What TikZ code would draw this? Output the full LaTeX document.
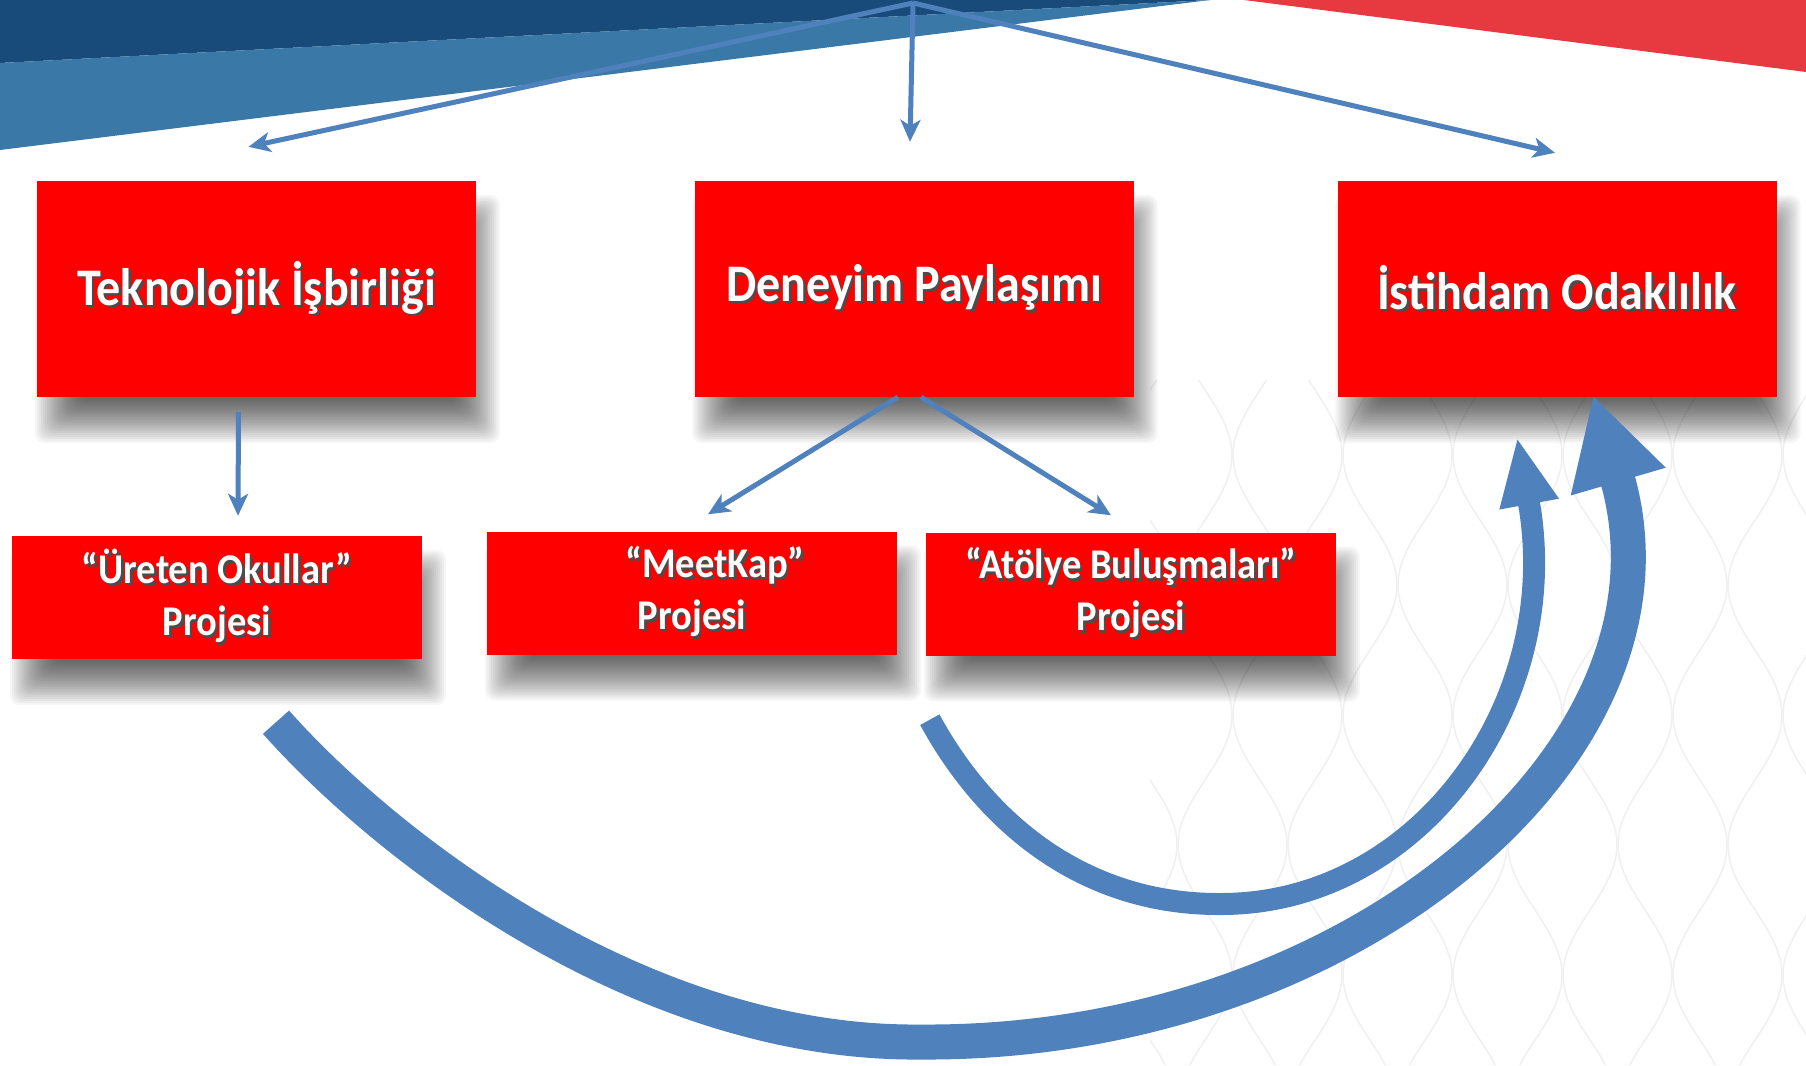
\documentclass[tikz,border=0pt]{standalone}
\usepackage{fontspec}
\setmainfont{Carlito}
\usepackage{xcolor}
\usepackage{graphicx}
\usepackage{tikz}
\usetikzlibrary{arrows.meta}
\pgfdeclarelayer{back}
\pgfdeclarelayer{shade}
\pgfsetlayers{back,shade,main}
\definecolor{boxred}{RGB}{255,0,0}
\definecolor{arrowblue}{RGB}{79,129,189}
\definecolor{navyblue}{RGB}{24,74,122}
\definecolor{steelblue}{RGB}{58,120,168}
\definecolor{bannerred}{RGB}{230,58,64}
\definecolor{latticegray}{RGB}{240,240,240}
\newcommand{\shtxt}[1]{\scalebox{1}[1.1]{\rlap{\kern2.5pt\raisebox{-2.5pt}{\textcolor{black!70}{#1}}}\textcolor{white}{#1}}}

\begin{document}
\begin{tikzpicture}[x=1pt, y=-1pt,
					% kirmizi kutular
					red_box/.style={
						rectangle, fill=boxred, inner sep=0pt,
						minimum width=439pt, minimum height=216pt,
						font=\fontsize{48}{58}\selectfont\bfseries
					},
					sub_box/.style={
						red_box, align=center,
						minimum width=410pt, minimum height=123pt,
						font=\fontsize{38.5}{52}\selectfont\bfseries
					},
					% kutu golgesi
					box_shade/.style={fill=black, opacity=0.034, rounded corners=10pt},
					% oklar
					thin_arrow/.style={draw=arrowblue, line width=5pt, -{Stealth[length=22pt,width=20pt,inset=6pt]}},
					big_arc/.style={draw=arrowblue, line width=35pt, -{Triangle[length=90pt,width=92pt]}},
					small_arc/.style={draw=arrowblue, line width=22pt, -{Triangle[length=68pt,width=55pt]}},
					lattice_line/.style={draw=latticegray, line width=1.5pt}
					]
					\useasboundingbox (0,0) rectangle (1806,1065);
					
					\begin{pgfonlayer}{back}
						\fill[white] (0,0) rectangle (1806,1065);
						% arka plan deseni
						\begin{scope}
							\clip (1150,380) rectangle (1806,1065);
							\foreach \k in {0,...,12} {
								\pgfmathsetmacro{\cx}{1150+55*\k}
								\pgfmathsetmacro{\sg}{1-2*mod(\k,2)}
								\draw[lattice_line] plot[domain=380:1065, samples=80, smooth] ({\cx+27*\sg*sin(1.3846*\x)}, \x);
							}
						\end{scope}
						% ust serit
						\fill[navyblue] (0,0) -- (1210,0) -- (0,63) -- cycle;
						\fill[steelblue] (0,63) -- (1210,0) -- (0,150) -- cycle;
						\fill[bannerred] (1244,0) -- (1806,0) -- (1806,72) -- cycle;
					\end{pgfonlayer}
					
					% ust kutular
					\node[red_box] (tek) at (256.5,289) {\shtxt{Teknolojik İşbirliği}};
					\node[red_box] (den) at (914,289) {\shtxt{Deneyim Paylaşımı}};
					\node[red_box] (ist) at (1557,289) {\shtxt{İstihdam Odaklılık}};
					
					% proje kutulari
					\node[sub_box] (ure) at (217,597.5) {\shtxt{“Üreten Okullar”}\\ \shtxt{Projesi}};
					\node[sub_box] (mee) at (692,593) {\hspace*{46pt}\shtxt{“MeetKap”}\\ \shtxt{Projesi}};
					\node[sub_box] (ato) at (1131,594) {\shtxt{“Atölye Buluşmaları”}\\ \shtxt{Projesi}};
					
					% golgeler
					\begin{pgfonlayer}{shade}
						\foreach \n in {tek,den,ist,ure,mee,ato} {
							\foreach \e in {-22,-20,...,22} {
								\fill[box_shade] ([xshift={(20-(\e))*1pt}, yshift={(-24-(\e))*1pt}]\n.south west)
									rectangle ([xshift={(2+(\e))*1pt}, yshift={(-36+(\e))*1pt}]\n.north east);
							}
						}
					\end{pgfonlayer}
					
					% ince oklar
					\coordinate (top) at (913,3);
					\draw[thin_arrow] (top) -- ([xshift=-8pt,yshift=34pt]tek.north);
					\draw[thin_arrow] (top) -- ([xshift=-4pt,yshift=39pt]den.north);
					\draw[thin_arrow] (top) -- ([xshift=-2pt,yshift=28pt]ist.north);
					\draw[thin_arrow] ([xshift=-18pt,yshift=-15pt]tek.south) -- ([xshift=21pt,yshift=20pt]ure.north);
					\draw[thin_arrow] ([xshift=-16pt]den.south) -- ([xshift=16pt,yshift=17pt]mee.north);
					\draw[thin_arrow] ([xshift=7pt]den.south) -- ([xshift=-20pt,yshift=17pt]ato.north);
					
					% egri oklar
					\coordinate (big_low) at (921,1042);
					\coordinate (small_low) at (1221,904);
					\draw[big_arc] ([xshift=59pt,yshift=-63pt]ure.south) .. controls (385,845) and (640,1045) .. (big_low)
						.. controls (1350,1045) and (1697,751) .. ([xshift=36pt,yshift=2pt]ist.south);
					\draw[small_arc] ([xshift=4pt,yshift=-64pt]ato.south west) .. controls (990,830) and (1090,905) .. (small_low)
						.. controls (1420,904) and (1565,701) .. ([xshift=-40pt,yshift=-40pt]ist.south);
					
\end{tikzpicture}
\end{document}
